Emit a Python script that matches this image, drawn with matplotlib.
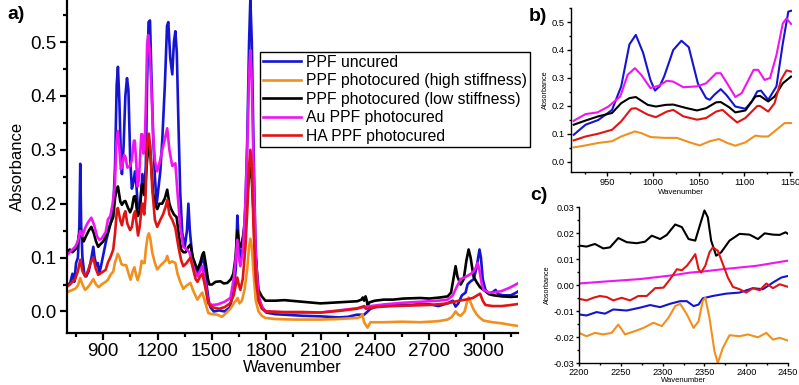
import matplotlib
matplotlib.use('Agg')
import matplotlib.pyplot as plt
import matplotlib.ticker as ticker

plt.rcParams['font.family'] = ['Liberation Sans', 'DejaVu Sans']
plt.rcParams['axes.unicode_minus'] = False

LABELS = ['PPF uncured', 'PPF photocured (high stiffness)',
          'PPF photocured (low stiffness)', 'Au PPF photocured', 'HA PPF photocured']
COLORS = ['#1414d2', '#f0901e', '#000000', '#f014f0', '#e01414']

# ---- panel a: full spectra (wavenumber, absorbance) ----
uncured_a = [
    (700, 0.052), (715, 0.05), (730, 0.07), (740, 0.055), (750, 0.09), (760, 0.1), (768, 0.16),
    (773, 0.274), (778, 0.16), (785, 0.1), (795, 0.07), (806, 0.065), (820, 0.075), (835, 0.1),
    (845, 0.12), (852, 0.1), (862, 0.085), (870, 0.09), (878, 0.07), (888, 0.085), (900, 0.105),
    (915, 0.13), (930, 0.15), (945, 0.17), (955, 0.19), (965, 0.27), (974, 0.42), (981, 0.454),
    (989, 0.39), (997, 0.29), (1003, 0.255), (1012, 0.305), (1022, 0.40), (1031, 0.433),
    (1039, 0.41), (1049, 0.28), (1058, 0.228), (1067, 0.24), (1075, 0.26), (1082, 0.24),
    (1090, 0.198), (1101, 0.19), (1108, 0.216), (1116, 0.255), (1126, 0.222), (1135, 0.27),
    (1142, 0.424), (1150, 0.537), (1158, 0.54), (1165, 0.45), (1175, 0.33), (1185, 0.25),
    (1195, 0.2), (1205, 0.23), (1215, 0.26), (1226, 0.32), (1240, 0.42), (1252, 0.53),
    (1259, 0.537), (1270, 0.47), (1281, 0.44), (1290, 0.5), (1298, 0.52), (1306, 0.48),
    (1315, 0.35), (1325, 0.22), (1336, 0.146), (1350, 0.12), (1362, 0.15), (1370, 0.2),
    (1378, 0.15), (1392, 0.1), (1405, 0.09), (1420, 0.07), (1435, 0.08), (1447, 0.1),
    (1458, 0.09), (1470, 0.05), (1482, 0.02), (1491, 0.008), (1510, 0.0), (1540, 0.002),
    (1570, 0.0), (1600, 0.008), (1620, 0.04), (1632, 0.08), (1640, 0.178), (1648, 0.13),
    (1657, 0.1), (1672, 0.12), (1685, 0.2), (1695, 0.32), (1705, 0.5), (1712, 0.58),
    (1720, 0.5), (1730, 0.3), (1740, 0.13), (1750, 0.05), (1760, 0.02), (1780, 0.005),
    (1800, -0.002), (1850, -0.005), (1900, -0.006), (2000, -0.008), (2100, -0.009),
    (2200, -0.011), (2250, -0.01), (2300, -0.006), (2340, -0.006), (2350, -0.003),
    (2375, 0.005), (2400, 0.008), (2450, 0.012), (2500, 0.012), (2600, 0.012), (2650, 0.014),
    (2706, 0.013), (2750, 0.01), (2800, 0.015), (2830, 0.02), (2845, 0.009), (2860, 0.015),
    (2880, 0.03), (2900, 0.035), (2911, 0.05), (2925, 0.055), (2945, 0.06), (2960, 0.08),
    (2970, 0.1), (2977, 0.115), (2985, 0.1), (2995, 0.06), (3010, 0.04), (3030, 0.033),
    (3050, 0.036), (3066, 0.04), (3080, 0.032), (3110, 0.03), (3150, 0.03), (3180, 0.035),
    (3193, 0.038),
]
high_stiff_a = [
    (700, 0.035), (715, 0.038), (730, 0.04), (745, 0.042), (760, 0.048), (773, 0.062),
    (785, 0.05), (800, 0.04), (815, 0.045), (830, 0.052), (845, 0.06), (860, 0.05),
    (875, 0.045), (890, 0.05), (913, 0.055), (926, 0.059), (940, 0.068), (955, 0.074),
    (965, 0.091), (980, 0.107), (990, 0.1), (1000, 0.088), (1012, 0.086), (1026, 0.086),
    (1040, 0.07), (1051, 0.059), (1062, 0.074), (1072, 0.082), (1081, 0.068), (1090, 0.058),
    (1101, 0.07), (1112, 0.094), (1120, 0.09), (1128, 0.09), (1135, 0.115), (1145, 0.139),
    (1152, 0.145), (1160, 0.135), (1170, 0.11), (1185, 0.09), (1198, 0.078), (1215, 0.085),
    (1230, 0.09), (1245, 0.095), (1253, 0.103), (1265, 0.09), (1280, 0.093), (1298, 0.09),
    (1310, 0.07), (1325, 0.055), (1342, 0.042), (1360, 0.048), (1381, 0.053), (1395, 0.04),
    (1408, 0.03), (1420, 0.022), (1435, 0.03), (1447, 0.035), (1460, 0.02), (1480, -0.003),
    (1500, -0.005), (1530, -0.006), (1555, -0.01), (1575, -0.004), (1602, 0.005), (1620, 0.015),
    (1632, 0.02), (1642, 0.025), (1652, 0.015), (1665, 0.02), (1680, 0.04), (1695, 0.08),
    (1705, 0.12), (1712, 0.135), (1720, 0.12), (1730, 0.07), (1742, 0.02), (1757, 0.0),
    (1775, -0.008), (1795, -0.012), (1850, -0.014), (1950, -0.015), (2100, -0.015),
    (2200, -0.014), (2303, -0.012), (2320, -0.01), (2331, -0.005), (2340, -0.02),
    (2359, -0.03), (2375, -0.02), (2450, -0.02), (2550, -0.019), (2650, -0.02), (2750, -0.018),
    (2801, -0.015), (2825, -0.01), (2845, 0.0), (2860, -0.006), (2873, -0.008), (2895, 0.0),
    (2910, 0.02), (2917, 0.026), (2930, 0.015), (2944, 0.004), (2960, -0.005), (2980, -0.012),
    (3000, -0.017), (3050, -0.02), (3100, -0.022), (3150, -0.025), (3193, -0.027),
]
low_stiff_a = [
    (700, 0.11), (715, 0.115), (730, 0.11), (745, 0.115), (755, 0.12), (765, 0.14), (773, 0.152),
    (782, 0.14), (792, 0.13), (805, 0.14), (820, 0.15), (834, 0.157), (848, 0.145), (860, 0.13),
    (872, 0.12), (885, 0.125), (900, 0.13), (915, 0.14), (926, 0.148), (940, 0.163),
    (955, 0.175), (965, 0.21), (974, 0.228), (981, 0.232), (994, 0.204), (1003, 0.198),
    (1014, 0.204), (1022, 0.205), (1037, 0.192), (1048, 0.184), (1058, 0.192), (1069, 0.213),
    (1076, 0.214), (1083, 0.196), (1090, 0.177), (1101, 0.184), (1112, 0.234), (1118, 0.236),
    (1126, 0.216), (1133, 0.234), (1142, 0.281), (1150, 0.305), (1157, 0.31), (1165, 0.27),
    (1175, 0.22), (1185, 0.2), (1198, 0.19), (1210, 0.2), (1225, 0.2), (1240, 0.21),
    (1253, 0.226), (1265, 0.2), (1275, 0.19), (1290, 0.18), (1305, 0.175), (1318, 0.14),
    (1330, 0.115), (1342, 0.11), (1355, 0.11), (1370, 0.12), (1381, 0.124), (1395, 0.1),
    (1410, 0.085), (1420, 0.078), (1435, 0.09), (1447, 0.105), (1455, 0.11), (1465, 0.09),
    (1478, 0.06), (1486, 0.05), (1500, 0.05), (1520, 0.055), (1547, 0.056), (1565, 0.052),
    (1585, 0.053), (1605, 0.06), (1618, 0.07), (1630, 0.1), (1640, 0.15), (1650, 0.125),
    (1660, 0.12), (1672, 0.14), (1685, 0.17), (1697, 0.22), (1705, 0.255), (1712, 0.266),
    (1720, 0.245), (1730, 0.18), (1742, 0.1), (1757, 0.04), (1775, 0.028), (1795, 0.02),
    (1850, 0.02), (1900, 0.021), (2000, 0.018), (2099, 0.015), (2200, 0.017), (2303, 0.019),
    (2325, 0.022), (2333, 0.026), (2340, 0.02), (2348, 0.028), (2355, 0.02), (2359, 0.011),
    (2370, 0.017), (2400, 0.02), (2450, 0.022), (2500, 0.022), (2558, 0.024), (2650, 0.025),
    (2700, 0.024), (2760, 0.026), (2801, 0.028), (2820, 0.035), (2835, 0.065), (2845, 0.084),
    (2855, 0.065), (2873, 0.05), (2890, 0.06), (2905, 0.095), (2917, 0.115), (2928, 0.1),
    (2944, 0.065), (2960, 0.055), (2980, 0.045), (3000, 0.04), (3030, 0.032), (3055, 0.03),
    (3100, 0.028), (3150, 0.027), (3193, 0.028),
]
au_a = [
    (700, 0.105), (715, 0.11), (730, 0.115), (745, 0.12), (760, 0.13), (773, 0.15), (785, 0.14),
    (800, 0.155), (815, 0.165), (834, 0.174), (850, 0.16), (865, 0.14), (878, 0.133),
    (890, 0.135), (900, 0.14), (913, 0.147), (926, 0.171), (939, 0.177), (951, 0.198),
    (964, 0.234), (972, 0.311), (980, 0.335), (987, 0.311), (997, 0.264), (1006, 0.272),
    (1015, 0.29), (1022, 0.287), (1033, 0.267), (1048, 0.27), (1058, 0.281), (1069, 0.317),
    (1074, 0.317), (1081, 0.281), (1090, 0.232), (1097, 0.246), (1110, 0.329), (1115, 0.329),
    (1122, 0.293), (1128, 0.3), (1135, 0.382), (1142, 0.495), (1148, 0.513), (1155, 0.49),
    (1165, 0.42), (1175, 0.33), (1185, 0.28), (1198, 0.26), (1210, 0.275), (1226, 0.3),
    (1240, 0.32), (1253, 0.34), (1265, 0.3), (1281, 0.27), (1298, 0.275), (1310, 0.22),
    (1325, 0.157), (1342, 0.12), (1360, 0.115), (1376, 0.11), (1390, 0.09), (1405, 0.075),
    (1420, 0.065), (1435, 0.075), (1447, 0.084), (1460, 0.06), (1480, 0.016), (1500, 0.012),
    (1530, 0.013), (1570, 0.018), (1602, 0.025), (1620, 0.06), (1632, 0.1), (1640, 0.133),
    (1648, 0.1), (1657, 0.084), (1670, 0.11), (1685, 0.2), (1697, 0.33), (1705, 0.44),
    (1712, 0.485), (1720, 0.43), (1730, 0.26), (1742, 0.1), (1757, 0.03), (1775, 0.01),
    (1795, 0.0), (1900, -0.002), (2000, -0.002), (2099, -0.002), (2200, 0.002), (2300, 0.006),
    (2375, 0.01), (2450, 0.013), (2550, 0.016), (2651, 0.018), (2750, 0.02), (2801, 0.022),
    (2830, 0.03), (2850, 0.045), (2873, 0.06), (2900, 0.064), (2920, 0.068), (2939, 0.072),
    (2955, 0.08), (2966, 0.09), (2975, 0.08), (2990, 0.05), (3000, 0.04), (3030, 0.035),
    (3055, 0.035), (3100, 0.038), (3150, 0.045), (3193, 0.053),
]
ha_a = [
    (700, 0.046), (715, 0.05), (730, 0.055), (745, 0.06), (760, 0.075), (773, 0.096),
    (785, 0.075), (800, 0.065), (815, 0.075), (830, 0.09), (845, 0.1), (858, 0.08),
    (872, 0.068), (890, 0.072), (913, 0.077), (926, 0.091), (940, 0.101), (955, 0.115),
    (965, 0.145), (976, 0.19), (981, 0.192), (994, 0.169), (1003, 0.16), (1015, 0.18),
    (1022, 0.186), (1033, 0.163), (1048, 0.151), (1058, 0.157), (1069, 0.18), (1076, 0.186),
    (1085, 0.16), (1092, 0.141), (1101, 0.157), (1114, 0.2), (1118, 0.2), (1126, 0.18),
    (1133, 0.21), (1140, 0.293), (1146, 0.327), (1152, 0.33), (1160, 0.3), (1170, 0.23),
    (1185, 0.17), (1198, 0.157), (1215, 0.17), (1230, 0.18), (1245, 0.195), (1253, 0.207),
    (1265, 0.18), (1281, 0.17), (1298, 0.155), (1315, 0.12), (1330, 0.095), (1342, 0.084),
    (1360, 0.09), (1381, 0.1), (1395, 0.08), (1410, 0.06), (1420, 0.055), (1435, 0.065),
    (1447, 0.07), (1460, 0.05), (1480, 0.015), (1500, 0.008), (1540, 0.005), (1570, 0.008),
    (1600, 0.015), (1620, 0.03), (1632, 0.05), (1640, 0.063), (1648, 0.05), (1657, 0.04),
    (1670, 0.06), (1685, 0.12), (1697, 0.2), (1705, 0.27), (1712, 0.3), (1720, 0.27),
    (1730, 0.15), (1742, 0.06), (1757, 0.02), (1775, 0.005), (1800, 0.0), (1900, -0.001),
    (2000, -0.001), (2100, -0.002), (2200, 0.001), (2300, 0.005), (2340, 0.01), (2350, 0.005),
    (2400, 0.008), (2500, 0.01), (2600, 0.011), (2700, 0.012), (2800, 0.015), (2850, 0.019),
    (2900, 0.022), (2940, 0.025), (2965, 0.03), (2980, 0.033), (2995, 0.02), (3010, 0.012),
    (3050, 0.01), (3100, 0.01), (3150, 0.012), (3193, 0.014),
]

# ---- panel b: 910-1150 zoom ----
uncured_b = [
    (913, 0.097), (926, 0.133), (940, 0.15), (955, 0.186), (965, 0.27), (974, 0.42), (981, 0.454),
    (989, 0.39), (997, 0.293), (1002, 0.255), (1007, 0.27), (1012, 0.305), (1022, 0.40),
    (1031, 0.433), (1039, 0.41), (1049, 0.28), (1058, 0.228), (1062, 0.222), (1067, 0.24),
    (1074, 0.26), (1080, 0.24), (1090, 0.198), (1101, 0.19), (1108, 0.216), (1114, 0.252),
    (1118, 0.255), (1126, 0.222), (1135, 0.27), (1142, 0.424), (1148, 0.537), (1151, 0.54),
]
high_stiff_b = [
    (913, 0.052), (926, 0.059), (940, 0.068), (955, 0.074), (965, 0.091), (980, 0.109),
    (987, 0.103), (997, 0.089), (1012, 0.086), (1026, 0.086), (1040, 0.07), (1051, 0.059),
    (1062, 0.074), (1072, 0.082), (1081, 0.068), (1090, 0.058), (1101, 0.07), (1112, 0.094),
    (1119, 0.091), (1126, 0.091), (1135, 0.115), (1144, 0.139), (1151, 0.139),
]
low_stiff_b = [
    (913, 0.133), (926, 0.148), (940, 0.163), (955, 0.175), (965, 0.21), (974, 0.228),
    (981, 0.232), (994, 0.204), (1003, 0.198), (1014, 0.204), (1022, 0.205), (1037, 0.192),
    (1048, 0.184), (1058, 0.192), (1069, 0.213), (1074, 0.214), (1083, 0.196), (1090, 0.177),
    (1101, 0.184), (1112, 0.234), (1117, 0.236), (1126, 0.216), (1133, 0.234), (1142, 0.281),
    (1151, 0.305),
]
au_b = [
    (913, 0.147), (926, 0.171), (939, 0.177), (951, 0.198), (964, 0.234), (972, 0.311),
    (980, 0.335), (987, 0.311), (997, 0.264), (1006, 0.272), (1015, 0.29), (1022, 0.287),
    (1033, 0.267), (1048, 0.27), (1058, 0.281), (1069, 0.317), (1074, 0.317), (1081, 0.281),
    (1090, 0.232), (1097, 0.246), (1110, 0.329), (1115, 0.329), (1122, 0.293), (1128, 0.3),
    (1135, 0.382), (1142, 0.495), (1146, 0.513), (1151, 0.493),
]
ha_b = [
    (913, 0.077), (926, 0.091), (940, 0.101), (955, 0.115), (965, 0.145), (976, 0.19),
    (981, 0.192), (994, 0.169), (1003, 0.16), (1015, 0.18), (1022, 0.186), (1033, 0.163),
    (1048, 0.151), (1058, 0.157), (1069, 0.18), (1076, 0.186), (1085, 0.16), (1092, 0.141),
    (1101, 0.157), (1114, 0.2), (1117, 0.2), (1126, 0.18), (1133, 0.21), (1140, 0.293),
    (1146, 0.327), (1151, 0.323),
]

# ---- panel c: 2200-2450 zoom ----
uncured_c = [
    (2200, -0.0113), (2209, -0.0117), (2221, -0.0104), (2231, -0.011), (2241, -0.0094),
    (2257, -0.0098), (2273, -0.0087), (2285, -0.0077), (2297, -0.0085), (2309, -0.0072),
    (2321, -0.0062), (2329, -0.0062), (2337, -0.0081), (2343, -0.0075), (2348, -0.0051),
    (2360, -0.0042), (2376, -0.0033), (2392, -0.0029), (2408, -0.0012), (2420, -0.0016),
    (2432, 0.001), (2442, 0.0029), (2450, 0.0035),
]
high_stiff_c = [
    (2200, -0.0184), (2209, -0.0197), (2219, -0.0184), (2229, -0.019), (2239, -0.0184),
    (2247, -0.0152), (2255, -0.019), (2267, -0.0177), (2277, -0.0165), (2289, -0.0145),
    (2299, -0.0158), (2307, -0.0126), (2315, -0.0081), (2321, -0.0072), (2329, -0.0113),
    (2337, -0.0165), (2343, -0.0139), (2348, -0.0061), (2351, -0.0049), (2356, -0.0126),
    (2362, -0.0255), (2366, -0.030), (2372, -0.0242), (2380, -0.0193), (2392, -0.0197),
    (2402, -0.019), (2414, -0.0201), (2424, -0.0184), (2432, -0.021), (2440, -0.0203),
    (2450, -0.0214),
]
low_stiff_c = [
    (2200, 0.0152), (2209, 0.0148), (2219, 0.0158), (2229, 0.0141), (2237, 0.0145),
    (2247, 0.0181), (2257, 0.0165), (2269, 0.0161), (2279, 0.0167), (2287, 0.019),
    (2297, 0.0177), (2305, 0.0193), (2315, 0.0233), (2323, 0.0223), (2331, 0.0177),
    (2339, 0.0171), (2345, 0.0235), (2350, 0.0287), (2354, 0.0261), (2358, 0.0171),
    (2364, 0.0113), (2370, 0.0126), (2380, 0.0171), (2392, 0.0197), (2404, 0.0194),
    (2414, 0.0177), (2422, 0.0199), (2432, 0.0194), (2440, 0.0193), (2447, 0.0203),
    (2450, 0.0197),
]
au_c = [
    (2200, 0.0006), (2233, 0.0014), (2273, 0.0023), (2313, 0.0038), (2333, 0.0048),
    (2348, 0.0052), (2372, 0.0061), (2412, 0.0074), (2450, 0.0094),
]
ha_c = [
    (2200, -0.0053), (2209, -0.0059), (2217, -0.0049), (2225, -0.0042), (2233, -0.0046),
    (2241, -0.0059), (2251, -0.0049), (2261, -0.0059), (2271, -0.0042), (2281, -0.0042),
    (2291, -0.0012), (2301, -0.001), (2309, 0.0023), (2317, 0.0061), (2323, 0.0057),
    (2329, 0.0074), (2335, 0.01), (2339, 0.0119), (2343, 0.0061), (2346, 0.0048),
    (2351, 0.0074), (2356, 0.0126), (2360, 0.0145), (2366, 0.0132), (2372, 0.0081),
    (2378, 0.0029), (2384, -0.0007), (2392, -0.0016), (2400, -0.0029), (2408, -0.0012),
    (2416, -0.002), (2424, 0.0006), (2432, -0.0012), (2440, 0.0003), (2450, -0.0007),
]

SERIES_A = [uncured_a, high_stiff_a, low_stiff_a, au_a, ha_a]
SERIES_B = [uncured_b, high_stiff_b, low_stiff_b, au_b, ha_b]
SERIES_C = [uncured_c, high_stiff_c, low_stiff_c, au_c, ha_c]


def draw(ax, series, lw):
    for pts, color, label in zip(series, COLORS, LABELS):
        xs = [p[0] for p in pts]
        ys = [p[1] for p in pts]
        ax.plot(xs, ys, color=color, lw=lw, label=label, solid_joinstyle='round')


def style_axes(ax, lw, size, length, pad):
    for side in ('top', 'right'):
        ax.spines[side].set_visible(False)
    for side in ('left', 'bottom'):
        ax.spines[side].set_linewidth(lw)
    ax.tick_params(which='major', direction='out', width=lw, length=length,
                   labelsize=size, pad=pad)
    ax.tick_params(which='minor', direction='out', width=lw, length=length * 0.6)


fig = plt.figure(figsize=(7.99, 3.85), dpi=100)

# panel a
ax_a = fig.add_axes([0.0839, 0.135, 0.5645, 0.865])
draw(ax_a, SERIES_A, 1.9)
ax_a.set_xlim(700, 3190)
ax_a.set_ylim(-0.04, 0.578)
ax_a.xaxis.set_major_locator(ticker.MultipleLocator(300))
ax_a.xaxis.set_minor_locator(ticker.MultipleLocator(150))
ax_a.yaxis.set_major_locator(ticker.MultipleLocator(0.1))
ax_a.yaxis.set_minor_locator(ticker.MultipleLocator(0.05))
ax_a.yaxis.set_major_formatter(ticker.FormatStrFormatter('%.1f'))
style_axes(ax_a, 1.6, 13.5, 5, 2.5)
ax_a.set_xlabel('Wavenumber', fontsize=12, labelpad=0)
ax_a.set_ylabel('Absorbance', fontsize=12, labelpad=4)
fig.legend(loc='upper left', bbox_to_anchor=(0.3254, 0.866), fontsize=11.3,
           frameon=True, fancybox=False, edgecolor='black', framealpha=1,
           handlelength=2.4, handletextpad=0.35, labelspacing=0.22, borderpad=0.2,
           borderaxespad=0)

# panel b
ax_b = fig.add_axes([0.7146, 0.5532, 0.2766, 0.426])
draw(ax_b, SERIES_B, 1.5)
ax_b.set_xlim(910, 1152)
ax_b.set_ylim(-0.036, 0.55)
ax_b.xaxis.set_major_locator(ticker.MultipleLocator(50))
ax_b.xaxis.set_minor_locator(ticker.MultipleLocator(25))
ax_b.yaxis.set_major_locator(ticker.MultipleLocator(0.1))
ax_b.yaxis.set_minor_locator(ticker.MultipleLocator(0.05))
ax_b.yaxis.set_major_formatter(ticker.FormatStrFormatter('%.1f'))
style_axes(ax_b, 1.0, 6.7, 3, 1.5)
ax_b.set_xlabel('Wavenumber', fontsize=5.6, labelpad=1)
ax_b.set_ylabel('Absorbance', fontsize=5.2, labelpad=2)

# panel c
ax_c = fig.add_axes([0.7247, 0.0571, 0.2616, 0.405])
draw(ax_c, SERIES_C, 1.5)
ax_c.set_xlim(2200, 2450)
ax_c.set_ylim(-0.03, 0.03)
ax_c.xaxis.set_major_locator(ticker.MultipleLocator(50))
ax_c.xaxis.set_minor_locator(ticker.MultipleLocator(25))
ax_c.yaxis.set_major_locator(ticker.MultipleLocator(0.01))
ax_c.yaxis.set_minor_locator(ticker.MultipleLocator(0.005))
ax_c.yaxis.set_major_formatter(ticker.FormatStrFormatter('%.2f'))
style_axes(ax_c, 1.0, 6.6, 2.5, 1)
ax_c.set_xlabel('Wavenumber', fontsize=5.5, labelpad=0)
ax_c.set_ylabel('Absorbance', fontsize=5.2, labelpad=2)

fig.text(0.009, 0.985, 'a)', fontsize=14, fontweight='bold', va='top', ha='left')
fig.text(0.662, 0.98, 'b)', fontsize=14, fontweight='bold', va='top', ha='left')
fig.text(0.664, 0.513, 'c)', fontsize=14, fontweight='bold', va='top', ha='left')

fig.savefig('out.png', dpi=100)
